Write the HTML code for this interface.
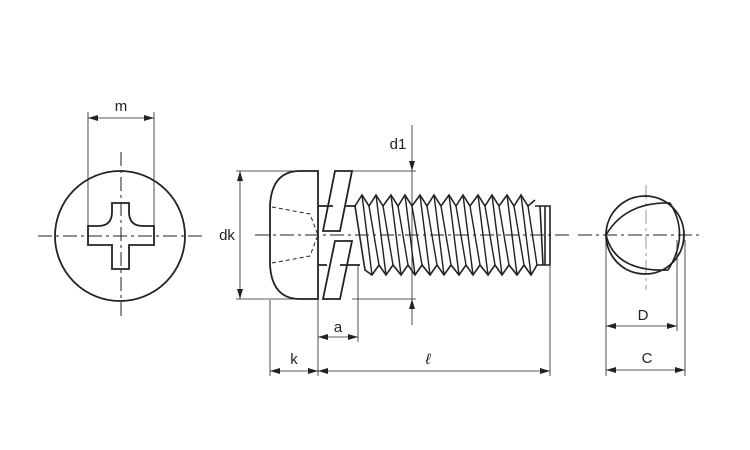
<!DOCTYPE html>
<html><head><meta charset="utf-8"><style>
html,body{margin:0;padding:0;background:#fff;}
svg{display:block;}
text{font-family:"Liberation Sans",sans-serif;font-size:15px;fill:#222;}
</style></head><body>
<svg width="750" height="450" viewBox="0 0 750 450" xmlns="http://www.w3.org/2000/svg">
<defs>
<marker id="a" viewBox="0 0 10 6" refX="10" refY="3" markerWidth="10" markerHeight="6" orient="auto-start-reverse" markerUnits="userSpaceOnUse"><path d="M0,0 L10,3 L0,6z" fill="#222"/></marker>
</defs>
<g stroke="#222" fill="none">
<!-- left view -->
<g stroke-width="1" stroke-dasharray="14,4,3,4">
<line x1="38" y1="236" x2="205" y2="236"/>
<line x1="121" y1="152" x2="121" y2="318"/>
</g>
<circle cx="120" cy="236" r="65" stroke-width="1.8"/>
<path d="M112,203 H129 V212 Q129,226 143,226 H154 V245 H129 V269 H112 V245 H88 V226 H98 Q112,226 112,212 Z" stroke-width="1.8"/>
<g stroke-width="0.8">
<line x1="88" y1="112" x2="88" y2="226"/>
<line x1="154" y1="112" x2="154" y2="226"/>
<line x1="88" y1="118" x2="154" y2="118" marker-start="url(#a)" marker-end="url(#a)"/>
</g>
<!-- side view -->
<line x1="255" y1="235" x2="570" y2="235" stroke-width="1" stroke-dasharray="14,4,3,4"/>
<path d="M318,171 H300 Q272,171 270,205 V265 Q272,299 300,299 H318 Z" stroke-width="1.8"/>
<path d="M272,207 L310,214 L316,230 M272,263 L310,256 L316,240 M316,230 L318,235 L316,240" stroke-width="1" stroke-dasharray="4,3"/>
<path d="M323,231 L335,171 H352 L340,231 Z" stroke-width="1.8"/>
<path d="M323,299 L335,241 H352 L340,299 Z" stroke-width="1.8"/>
<path d="M318,206 H333 M318,265 H327 M346,206 H356 M340,265 H360" stroke-width="1.8"/>
<path d="M355,206 L362,195 L369,206 L376,195 L383,206 L391,195 L398,206 L405,195 L412,206 L420,195 L427,206 L434,195 L441,206 L449,195 L456,206 L463,195 L470,206 L478,195 L485,206 L492,195 L499,206 L507,195 L514,206 L521,195 L528,206 L535,200 M355,206 L365,270 L372,275 L379,265 L386,275 L393,265 L401,275 L408,265 L415,275 L422,265 L430,275 L437,265 L444,275 L451,265 L459,275 L466,265 L473,275 L480,265 L488,275 L495,265 L502,275 L509,265 L517,275 L524,265 L531,275 L537,265" stroke-width="1.6"/>
<g stroke-width="1.4">
<line x1="362" y1="195" x2="372" y2="275"/><line x1="369" y1="206" x2="379" y2="265"/>
<line x1="376" y1="195" x2="386" y2="275"/><line x1="383" y1="206" x2="393" y2="265"/>
<line x1="391" y1="195" x2="401" y2="275"/><line x1="398" y1="206" x2="408" y2="265"/>
<line x1="405" y1="195" x2="415" y2="275"/><line x1="412" y1="206" x2="422" y2="265"/>
<line x1="420" y1="195" x2="430" y2="275"/><line x1="427" y1="206" x2="437" y2="265"/>
<line x1="434" y1="195" x2="444" y2="275"/><line x1="441" y1="206" x2="451" y2="265"/>
<line x1="449" y1="195" x2="459" y2="275"/><line x1="456" y1="206" x2="466" y2="265"/>
<line x1="463" y1="195" x2="473" y2="275"/><line x1="470" y1="206" x2="480" y2="265"/>
<line x1="478" y1="195" x2="488" y2="275"/><line x1="485" y1="206" x2="495" y2="265"/>
<line x1="492" y1="195" x2="502" y2="275"/><line x1="499" y1="206" x2="509" y2="265"/>
<line x1="507" y1="195" x2="517" y2="275"/><line x1="514" y1="206" x2="524" y2="265"/>
<line x1="521" y1="195" x2="531" y2="275"/><line x1="528" y1="206" x2="537" y2="265"/>
</g>
<path d="M535,206 H550 V265 H537 M540,206 L543,265 M545,206 V265" stroke-width="1.6"/>
<!-- dims -->
<g stroke-width="0.8">
<line x1="236" y1="171" x2="318" y2="171"/><line x1="236" y1="299" x2="318" y2="299"/>
<line x1="352" y1="171" x2="416" y2="171"/><line x1="352" y1="299" x2="416" y2="299"/>
<line x1="240" y1="171" x2="240" y2="299" marker-start="url(#a)" marker-end="url(#a)"/>
<line x1="412" y1="125" x2="412" y2="171" marker-end="url(#a)"/>
<line x1="412" y1="171" x2="412" y2="299"/>
<line x1="412" y1="325" x2="412" y2="299" marker-end="url(#a)"/>
<line x1="270" y1="300" x2="270" y2="376"/>
<line x1="318" y1="300" x2="318" y2="376"/>
<line x1="358" y1="266" x2="358" y2="342"/>
<line x1="550" y1="266" x2="550" y2="376"/>
<line x1="318" y1="337" x2="358" y2="337" marker-start="url(#a)" marker-end="url(#a)"/>
<line x1="270" y1="371" x2="318" y2="371" marker-start="url(#a)" marker-end="url(#a)"/>
<line x1="318" y1="371" x2="550" y2="371" marker-start="url(#a)" marker-end="url(#a)"/>
</g>
<!-- right view -->
<g stroke-width="1" stroke-dasharray="14,4,3,4">
<line x1="578" y1="235" x2="700" y2="235"/>
<line x1="646" y1="185" x2="646" y2="290" stroke="#999"/>
</g>
<circle cx="645" cy="235" r="39" stroke-width="1.8"/>
<path d="M606,235 Q625,202 670,203 Q690,235 668,270 Q615,272 606,235 Z" stroke-width="1.6"/>
<g stroke-width="0.8">
<line x1="606" y1="236" x2="606" y2="376"/>
<line x1="677" y1="240" x2="677" y2="331"/>
<line x1="685" y1="240" x2="685" y2="376"/>
<line x1="606" y1="326" x2="677" y2="326" marker-start="url(#a)" marker-end="url(#a)"/>
<line x1="606" y1="370" x2="685" y2="370" marker-start="url(#a)" marker-end="url(#a)"/>
</g>
</g>
<text x="121" y="111" text-anchor="middle">m</text>
<text x="227" y="240" text-anchor="middle">dk</text>
<text x="398" y="149" text-anchor="middle">d1</text>
<text x="338" y="332" text-anchor="middle">a</text>
<text x="294" y="364" text-anchor="middle">k</text>
<text x="428" y="364" text-anchor="middle" font-style="italic">ℓ</text>
<text x="643" y="320" text-anchor="middle">D</text>
<text x="647" y="363" text-anchor="middle">C</text>
</svg>
</body></html>
